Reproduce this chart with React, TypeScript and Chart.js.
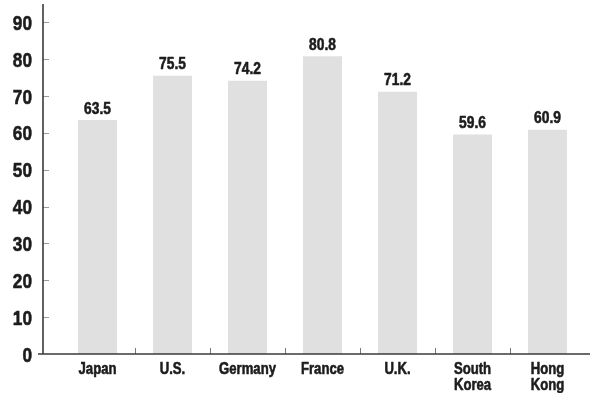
import React, { useEffect, useRef } from "react";
import { Chart, registerables } from "chart.js";

Chart.register(...registerables);

const categories: string[][] = [["Japan"], ["U.S."], ["Germany"], ["France"], ["U.K."], ["South", "Korea"], ["Hong", "Kong"]];
const values: number[] = [63.5, 75.5, 74.2, 80.8, 71.2, 59.6, 60.9];
const yTicks: number[] = [0, 10, 20, 30, 40, 50, 60, 70, 80, 90];

const FONT = "'Liberation Sans', Arial, sans-serif";
const TEXT = "#1c1c1c";

function drawNarrow(ctx: CanvasRenderingContext2D, text: string, x: number, y: number, align: CanvasTextAlign, size: number, sx: number) {
  ctx.save();
  ctx.translate(x, y);
  ctx.scale(sx, 1);
  ctx.font = `bold ${size}px ${FONT}`;
  ctx.textAlign = align;
  ctx.textBaseline = "alphabetic";
  ctx.fillStyle = TEXT;
  ctx.strokeStyle = TEXT;
  ctx.lineWidth = 0.6;
  ctx.lineJoin = "round";
  ctx.fillText(text, 0, 0);
  ctx.strokeText(text, 0, 0);
  ctx.restore();
}

const axesPlugin = {
  id: "customAxes",
  afterDraw(chart: any) {
    const ctx = chart.ctx;
    const area = chart.chartArea;
    const y = chart.scales.y;
    const x = chart.scales.x;
    const y0 = y.getPixelForValue(0);
    const axisX = area.left - 17;
    ctx.save();
    // y tick marks
    ctx.strokeStyle = "#9a9a9a";
    ctx.lineWidth = 1;
    for (const t of yTicks) {
      if (t === 0) continue;
      const py = Math.round(y.getPixelForValue(t)) + 0.5;
      ctx.beginPath();
      ctx.moveTo(axisX, py);
      ctx.lineTo(axisX + 6, py);
      ctx.stroke();
    }
    // x tick marks at category boundaries
    ctx.strokeStyle = "#777";
    const n = categories.length;
    for (let i = 1; i < n; i++) {
      const px = Math.round((x.getPixelForTick(i - 1) + x.getPixelForTick(i)) / 2) + 0.5;
      ctx.beginPath();
      ctx.moveTo(px, y0);
      ctx.lineTo(px, y0 - 6);
      ctx.stroke();
    }
    // axis lines
    ctx.strokeStyle = "#3a3a3a";
    ctx.lineWidth = 1.6;
    ctx.beginPath();
    ctx.moveTo(axisX, area.top);
    ctx.lineTo(axisX, y0);
    ctx.stroke();
    ctx.beginPath();
    ctx.moveTo(axisX - 5, y0);
    ctx.lineTo(chart.width, y0);
    ctx.stroke();
    ctx.restore();

    // y tick labels
    for (const t of yTicks) {
      const py = y.getPixelForValue(t);
      drawNarrow(ctx, String(t), axisX - 11, py + 7.5, "right", 21, 0.82);
    }
    // x tick labels
    categories.forEach((lines, i) => {
      const px = x.getPixelForTick(i);
      lines.forEach((line, j) => {
        drawNarrow(ctx, line, px, y0 + 19.5 + j * 16.5, "center", 16, 0.82);
      });
    });
    // value labels
    const meta = chart.getDatasetMeta(0);
    meta.data.forEach((bar: any, i: number) => {
      drawNarrow(ctx, values[i].toFixed(1), bar.x, bar.y - 6.5, "center", 16, 0.86);
    });
  },
};

export default function App() {
  const ref = useRef<HTMLCanvasElement>(null);
  useEffect(() => {
    document.body.style.margin = "0";
    const chart = new Chart(ref.current!, {
      type: "bar",
      data: {
        labels: categories.map((c) => c.join(" ")),
        datasets: [
          {
            data: values,
            backgroundColor: "#e0e0e0",
            borderWidth: 0,
            categoryPercentage: 1,
            barPercentage: 0.52,
          },
        ],
      },
      options: {
        responsive: false,
        animation: false,
        layout: { padding: { top: 4, right: 5, left: 0, bottom: 0 } },
        plugins: { legend: { display: false }, tooltip: { enabled: false }, title: { display: false } },
        scales: {
          x: {
            grid: { display: false, drawTicks: false },
            border: { display: false },
            ticks: { display: false },
            afterFit(scale: any) {
              scale.height = 39;
              scale.paddingLeft = 0;
              scale.paddingRight = 0;
            },
          },
          y: {
            min: 0,
            max: 95,
            afterBuildTicks(scale: any) {
              scale.ticks = yTicks.map((v) => ({ value: v }));
            },
            grid: { display: false, drawTicks: false },
            border: { display: false },
            ticks: { display: false },
            afterFit(scale: any) {
              scale.width = 60;
              scale.paddingTop = 0;
              scale.paddingBottom = 0;
            },
          },
        },
      },
      plugins: [axesPlugin],
    });
    return () => chart.destroy();
  }, []);
  return <canvas ref={ref} width={590} height={393} style={{ display: "block" }} />;
}
